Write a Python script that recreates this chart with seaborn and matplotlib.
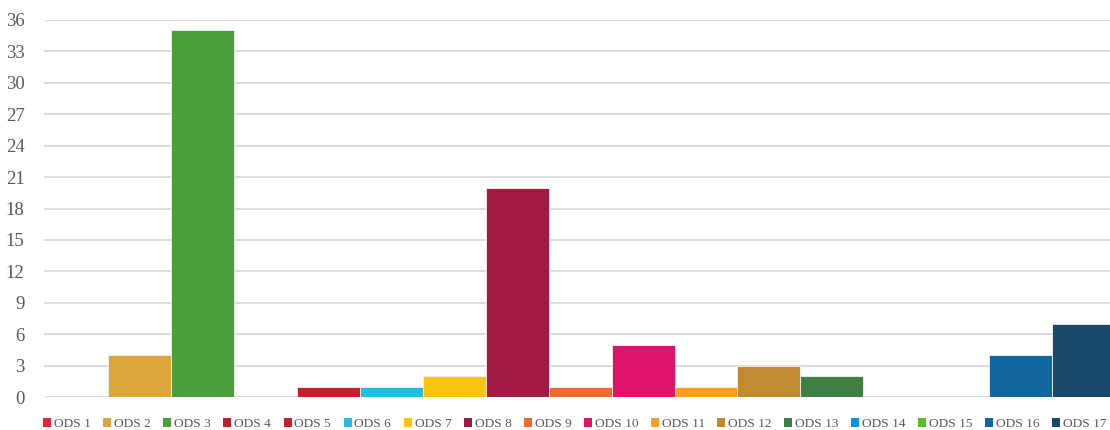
import pandas as pd
import matplotlib
matplotlib.use("Agg")
import matplotlib.pyplot as plt
from matplotlib.patches import Patch
import seaborn as sns

sns.set_style("white")
plt.rcParams['font.family'] = ['Liberation Serif', 'DejaVu Serif']

# ODS (objetivos de desarrollo sostenible) y número de menciones
ods = ['ODS 1', 'ODS 2', 'ODS 3', 'ODS 4', 'ODS 5', 'ODS 6', 'ODS 7', 'ODS 8', 'ODS 9',
       'ODS 10', 'ODS 11', 'ODS 12', 'ODS 13', 'ODS 14', 'ODS 15', 'ODS 16', 'ODS 17']
valores = [0, 4, 35, 0, 1, 1, 2, 20, 1, 5, 1, 3, 2, 0, 0, 4, 7]
colores = ['#E5243B', '#DDA63A', '#4C9F38', '#C5192D', '#C4212F', '#26BDE2', '#FCC30B',
           '#A21942', '#F26A2E', '#DD1367', '#FD9D24', '#BF8B2E', '#3F7E44', '#0A97D9',
           '#56C02B', '#11679E', '#19486A']
yticks = list(range(0, 37, 3))

df = pd.DataFrame({'ods': ods, 'valor': valores})

fig = plt.figure(figsize=(11.1, 4.3), dpi=100)
ax = fig.add_axes([44 / 1110, 33 / 430, 1071 / 1110, 377 / 430])

sns.barplot(data=df, x='ods', y='valor', hue='ods', palette=colores, width=1.0,
            saturation=1, edgecolor='#f2f2f2', linewidth=0.6, legend=False, ax=ax)

ax.set_xlim(-0.52, 16.5)
ax.set_ylim(0, 36)
ax.set_yticks(yticks)
ax.set_xticks([])
ax.set_xlabel('')
ax.set_ylabel('')
ax.yaxis.grid(True, color='#d9d9d9', linewidth=1.3)
ax.set_axisbelow(True)
for s in ['top', 'right', 'left', 'bottom']:
    ax.spines[s].set_visible(False)
ax.tick_params(axis='y', length=0, pad=14, labelsize=13.5, labelcolor='#595959')

handles = [Patch(facecolor=c, edgecolor='none') for c in colores]
fig.legend(handles, ods, loc='center left', bbox_to_anchor=(43 / 1110, 1 - 424 / 430),
           ncol=17, frameon=False, fontsize=9.6, labelcolor='#595959',
           handlelength=0.6, handleheight=0.6, handletextpad=0.2,
           columnspacing=0.95, borderaxespad=0, borderpad=0)

fig.savefig('out.png', dpi=100)
